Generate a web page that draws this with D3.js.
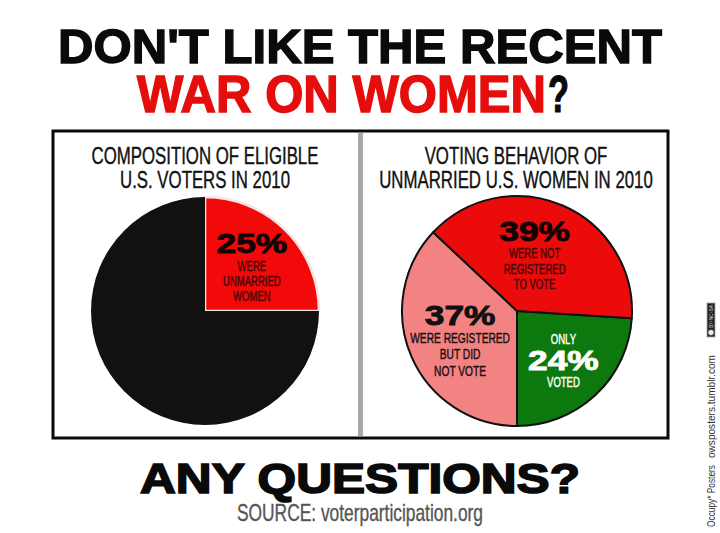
<!DOCTYPE html>
<html lang="en">
<head>
<meta charset="utf-8">
<title>Don't like the recent war on women?</title>
<script src="https://cdn.jsdelivr.net/npm/d3@7/dist/d3.min.js"></script>
<style>
    body { margin: 0; background: #fff; }
    svg { display: block; }
</style>
</head>
<body>
<script>
// ---- data ----
var voterGroups = ["Unmarried women", "All other eligible voters"];
var voterShares = [25, 75];
var voterLabelBefore = [[], null];
var voterLabelAfter = [["WERE", "UNMARRIED", "WOMEN"], null];

var behaviourGroups = ["Voted", "Registered but did not vote", "Not registered to vote"];
var behaviourShares = [24, 37, 39];
var behaviourLabelBefore = [["ONLY"], [], []];
var behaviourLabelAfter = [["VOTED"], ["WERE REGISTERED", "BUT DID", "NOT VOTE"], ["WERE NOT", "REGISTERED", "TO VOTE"]];

var leftTitle = ["COMPOSITION OF ELIGIBLE", "U.S. VOTERS IN 2010"];
var rightTitle = ["VOTING BEHAVIOR OF", "UNMARRIED U.S. WOMEN IN 2010"];

// ---- layout ----
var w = 720, h = 533;
var narrow = "'Liberation Sans', Arial, sans-serif";
var heavy = "'Liberation Sans', Arial, sans-serif";
var condense = 0.68;    // squeeze regular glyphs to look like a condensed face
var widen = 1.26;       // stretch bold percent figures

var svg = d3.select("body").append("svg")
    .attr("width", w)
    .attr("height", h);

// squeeze / stretch a text to a share of its natural width
function fit(sel, factor) {
    sel.each(function() {
        var len = this.getComputedTextLength();
        d3.select(this)
            .attr("textLength", len * factor)
            .attr("lengthAdjust", "spacingAndGlyphs");
    });
    return sel;
}

// headline
svg.append("text")
    .attr("x", 58).attr("y", 63)
    .attr("textLength", 604).attr("lengthAdjust", "spacingAndGlyphs")
    .attr("font-family", heavy).attr("font-weight", 900).attr("font-size", 49)
    .attr("fill", "#0a0a0a").attr("stroke", "#0a0a0a").attr("stroke-width", 1.4)
    .text("DON'T LIKE THE RECENT");

svg.append("text")
    .attr("x", 137).attr("y", 112)
    .attr("textLength", 409).attr("lengthAdjust", "spacingAndGlyphs")
    .attr("font-family", heavy).attr("font-weight", 900).attr("font-size", 51)
    .attr("fill", "#e60d0d").attr("stroke", "#e60d0d").attr("stroke-width", 1.4)
    .text("WAR ON WOMEN");

svg.append("text")
    .attr("x", 548).attr("y", 112)
    .attr("textLength", 21).attr("lengthAdjust", "spacingAndGlyphs")
    .attr("font-family", heavy).attr("font-weight", 900).attr("font-size", 51)
    .attr("fill", "#0a0a0a").attr("stroke", "#0a0a0a").attr("stroke-width", 1.2)
    .text("?");

// frame and divider
svg.append("rect")
    .attr("x", 53).attr("y", 131)
    .attr("width", 615).attr("height", 307)
    .attr("fill", "none")
    .attr("stroke", "#0a0a0a")
    .attr("stroke-width", 3);

svg.append("rect")
    .attr("x", 358).attr("y", 133)
    .attr("width", 5).attr("height", 303)
    .attr("fill", "#aaa7a4");

// panel titles
function drawTitle(lines, cx) {
    var t = svg.append("g").selectAll("text")
        .data(lines)
        .enter()
        .append("text")
        .attr("x", cx)
        .attr("y", function(d, i) { return 164 + i * 24; })
        .attr("text-anchor", "middle")
        .attr("font-family", narrow)
        .attr("font-size", 23.5)
        .attr("fill", "#111")
        .attr("stroke", "#111")
        .attr("stroke-width", 0.4)
        .text(function(d) { return d; });
    fit(t, 0.715);
}
drawTitle(leftTitle, 205);
drawTitle(rightTitle, 516);

// label block: lines stacked so the block is centred on (x, y)
function drawLabel(g, x, y, before, pct, after, style) {
    var lines = before.map(function(s) { return { text: s, big: false }; })
        .concat([{ text: pct + "%", big: true }])
        .concat(after.map(function(s) { return { text: s, big: false }; }));
    var base = 0, top = 0;
    lines.forEach(function(l, i) {
        if (i === 0) {
            top = -(l.big ? 20 : style.cap);
        } else {
            var prev = lines[i - 1];
            base += prev.big ? 17.5 : (l.big ? 26 : style.gap);
        }
        l.base = base;
    });
    var shift = y - (top + base) / 2;

    var t = g.selectAll(null)
        .data(lines)
        .enter()
        .append("text")
        .attr("x", x)
        .attr("y", function(d) { return d.base + shift; })
        .attr("text-anchor", "middle")
        .attr("font-family", function(d) { return d.big ? heavy : narrow; })
        .attr("font-weight", function(d) { return d.big ? 900 : 400; })
        .attr("font-size", function(d) { return d.big ? 28 : style.size; })
        .attr("fill", function(d) { return d.big ? style.bigColor : style.color; })
        .attr("stroke", function(d) { return d.big ? style.bigColor : style.color; })
        .attr("stroke-width", function(d) { return d.big ? 0.9 : 0.45; })
        .text(function(d) { return d.text; });
    t.each(function(d) {
        fit(d3.select(this), d.big ? widen : condense);
    });
}

// ---- left pie ----
var r = 114;
var leftPie = d3.pie().sort(null).startAngle(0).endAngle(2 * Math.PI);
var leftArcs = leftPie(voterShares);
var leftColor = d3.scaleOrdinal().domain(voterGroups).range(["#f20a0a", "#121010"]);
var arc = d3.arc().innerRadius(0).outerRadius(r);
var labelArc = d3.arc().innerRadius(62).outerRadius(62);

var left = svg.append("g").attr("transform", "translate(205,311)");

left.selectAll("path")
    .data(leftArcs)
    .enter()
    .append("path")
    .attr("d", arc)
    .attr("fill", function(d, i) { return leftColor(voterGroups[i]); })
    .attr("stroke", function(d, i) { return i === 0 ? "#f6e4e4" : "none"; })
    .attr("stroke-width", 2.5);

leftArcs.forEach(function(d, i) {
    if (!voterLabelAfter[i]) return;
    var c = labelArc.centroid(d);
    drawLabel(left, c[0] + 3, c[1], voterLabelBefore[i], voterShares[i], voterLabelAfter[i],
        { size: 14, cap: 10, gap: 15, color: "#4a0606", bigColor: "#120404" });
});

// ---- right pie ----
var total = d3.sum(behaviourShares);
var start = Math.PI - behaviourShares[0] / total * 2 * Math.PI;
var rightPie = d3.pie().sort(null).startAngle(start).endAngle(start + 2 * Math.PI);
var rightArcs = rightPie(behaviourShares);
var rightColor = d3.scaleOrdinal().domain(behaviourGroups).range(["#0d780d", "#f38383", "#ec0b0b"]);
var arcR = d3.arc().innerRadius(0).outerRadius(115);

var right = svg.append("g").attr("transform", "translate(517,311)");

right.selectAll("path")
    .data(rightArcs)
    .enter()
    .append("path")
    .attr("d", arcR)
    .attr("fill", function(d, i) { return rightColor(behaviourGroups[i]); })
    .attr("stroke", "#111")
    .attr("stroke-width", 2)
    .attr("stroke-linejoin", "round");

var nudges = [[4, 4], [0, 5], [-7, 1]];
var rightStyles = [
    { size: 14, cap: 10.5, gap: 16, color: "#ffffff", bigColor: "#ffffff" },
    { size: 15, cap: 11, gap: 16.5, color: "#1a1010", bigColor: "#111" },
    { size: 14, cap: 10, gap: 15.5, color: "#4a0606", bigColor: "#120404" }
];
rightArcs.forEach(function(d, i) {
    var c = labelArc.centroid(d);
    drawLabel(right, c[0] + nudges[i][0], c[1] + nudges[i][1],
        behaviourLabelBefore[i], behaviourShares[i], behaviourLabelAfter[i], rightStyles[i]);
});

// footer
svg.append("text")
    .attr("x", 140).attr("y", 493)
    .attr("textLength", 440).attr("lengthAdjust", "spacingAndGlyphs")
    .attr("font-family", heavy).attr("font-weight", 900).attr("font-size", 42)
    .attr("fill", "#0a0a0a").attr("stroke", "#0a0a0a").attr("stroke-width", 1.6)
    .text("ANY QUESTIONS?");

svg.append("text")
    .attr("x", 360).attr("y", 521)
    .attr("text-anchor", "middle")
    .attr("textLength", 246).attr("lengthAdjust", "spacingAndGlyphs")
    .attr("font-family", narrow).attr("font-size", 24)
    .attr("fill", "#555").attr("stroke", "#555").attr("stroke-width", 0.35)
    .text("SOURCE: voterparticipation.org");

// side credit, reading bottom to top
var credit = svg.append("g").attr("transform", "translate(715,527) rotate(-90)");
credit.append("text")
    .attr("x", 0).attr("y", 0)
    .attr("textLength", 62).attr("lengthAdjust", "spacingAndGlyphs")
    .attr("font-family", narrow).attr("font-size", 10)
    .attr("fill", "#333")
    .text("Occupy* Posters");
credit.append("text")
    .attr("x", 69).attr("y", 0)
    .attr("textLength", 103).attr("lengthAdjust", "spacingAndGlyphs")
    .attr("font-family", narrow).attr("font-size", 10)
    .attr("fill", "#333")
    .text("owsposters.tumblr.com");
credit.append("rect")
    .attr("x", 190).attr("y", -8)
    .attr("width", 34).attr("height", 8)
    .attr("fill", "#222").attr("stroke", "#aaa").attr("stroke-width", 0.8);
credit.append("circle")
    .attr("cx", 194.5).attr("cy", -4).attr("r", 3)
    .attr("fill", "#eee").attr("stroke", "#222").attr("stroke-width", 0.6);
credit.append("text")
    .attr("x", 199).attr("y", -1.8)
    .attr("textLength", 23).attr("lengthAdjust", "spacingAndGlyphs")
    .attr("font-family", narrow).attr("font-size", 5)
    .attr("fill", "#ddd")
    .text("BY-NC-SA");
</script>
</body>
</html>
